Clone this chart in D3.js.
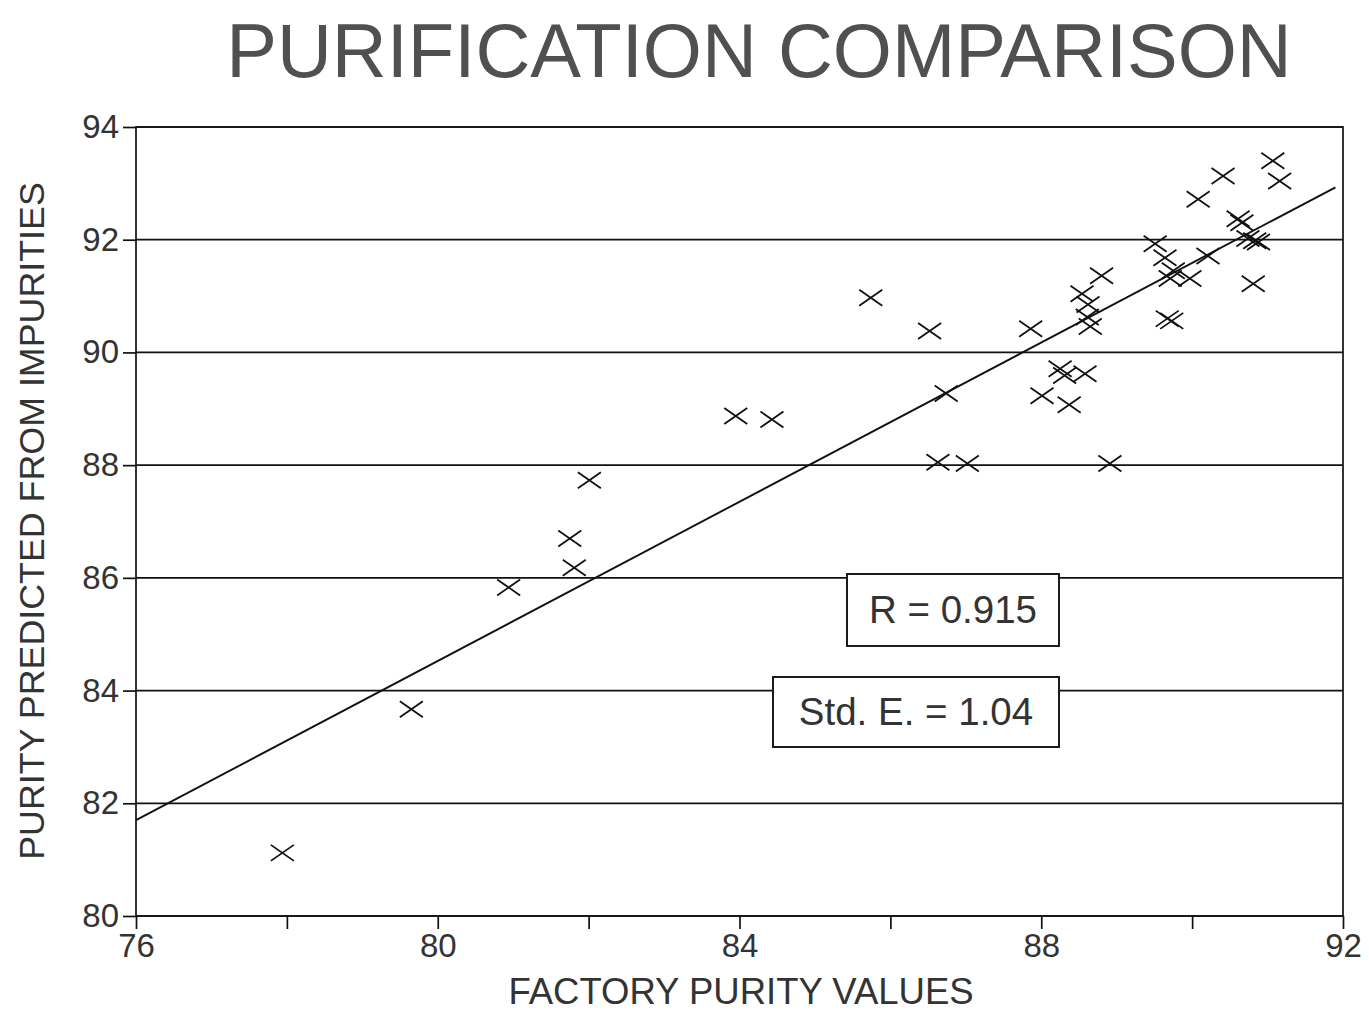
<!DOCTYPE html>
<html>
<head>
<meta charset="utf-8">
<script src="https://cdn.jsdelivr.net/npm/d3@7"></script>
<style>
  html, body { margin: 0; padding: 0; background: #fff; }
  svg { display: block; font-family: "Liberation Sans", Arial, sans-serif; }
</style>
</head>
<body>
<svg id="chart" width="1369" height="1012"></svg>
<script>
// ---- data ----
const title = "PURIFICATION COMPARISON";
const xLabel = "FACTORY PURITY VALUES";
const yLabel = "PURITY PREDICTED FROM IMPURITIES";
const xTicks = [76, 78, 80, 82, 84, 86, 88, 90, 92];
const xTickLabels = [76, 80, 84, 88, 92];
const yTicks = [80, 82, 84, 86, 88, 90, 92, 94];
const factoryPurity = [
  77.94, 79.65, 80.94, 81.75, 81.81, 82.01, 83.95, 84.43, 85.74, 86.52,
  86.74, 86.63, 87.02, 87.86, 88.01, 88.25, 88.31, 88.37, 88.58, 88.91,
  88.54, 88.62, 88.61, 88.65, 88.80, 89.51, 89.64, 89.75, 89.71, 89.97,
  90.21, 90.08, 90.41, 90.61, 90.66, 90.74, 90.83, 90.88, 90.81, 91.07,
  91.16, 89.67, 89.73
];
const predictedPurity = [
  81.12, 83.67, 85.83, 86.70, 86.18, 87.73, 88.87, 88.81, 90.97, 90.38,
  89.27, 88.05, 88.03, 90.42, 89.23, 89.71, 89.59, 89.07, 89.62, 88.03,
  91.04, 90.85, 90.63, 90.46, 91.36, 91.93, 91.68, 91.45, 91.31, 91.31,
  91.71, 92.72, 93.13, 92.37, 92.30, 92.02, 91.98, 91.96, 91.22, 93.40,
  93.04, 90.60, 90.56
];
const fitLineX = [76, 91.9];
const fitLineY = [81.7, 92.93];
const annotations = ["R = 0.915", "Std. E. = 1.04"];

// ---- layout ----
const W = 1369, H = 1012;
const margin = { left: 136, right: 26, top: 127, bottom: 96 };
const svg = d3.select("#chart");

const x = d3.scaleLinear().domain([76, 92]).range([margin.left, W - margin.right]);
const y = d3.scaleLinear().domain([80, 94]).range([H - margin.bottom, margin.top]);

// gridlines
svg.append("g")
  .selectAll("line")
  .data(yTicks)
  .join("line")
  .attr("x1", x(76)).attr("x2", x(92))
  .attr("y1", d => y(d)).attr("y2", d => y(d))
  .attr("stroke", "#111").attr("stroke-width", 1.7);

// plot border
svg.append("rect")
  .attr("x", x(76)).attr("y", y(94))
  .attr("width", x(92) - x(76)).attr("height", y(80) - y(94))
  .attr("fill", "none").attr("stroke", "#111").attr("stroke-width", 1.7);

// x axis
const xAxis = d3.axisBottom(x)
  .tickValues(xTicks)
  .tickSize(13)
  .tickPadding(5)
  .tickFormat(d => xTickLabels.includes(d) ? d : "");
const gx = svg.append("g").attr("transform", `translate(0,${y(80)})`).call(xAxis);
gx.select(".domain").remove();
gx.selectAll("line").attr("stroke", "#111").attr("stroke-width", 1.7);
gx.selectAll("text")
  .attr("font-size", 33).attr("fill", "#333")
  .attr("font-family", "Liberation Sans, Arial, sans-serif");

// y axis
const yAxis = d3.axisLeft(y).tickValues(yTicks).tickSize(13).tickPadding(4);
const gy = svg.append("g").attr("transform", `translate(${x(76)},0)`).call(yAxis);
gy.select(".domain").remove();
gy.selectAll("line").attr("stroke", "#111").attr("stroke-width", 1.7);
gy.selectAll("text")
  .attr("font-size", 33).attr("fill", "#333")
  .attr("font-family", "Liberation Sans, Arial, sans-serif");

// regression line
svg.append("line")
  .attr("x1", x(fitLineX[0])).attr("y1", y(fitLineY[0]))
  .attr("x2", x(fitLineX[1])).attr("y2", y(fitLineY[1]))
  .attr("stroke", "#111").attr("stroke-width", 1.9);

// annotation boxes
const boxes = [
  { text: annotations[0], x0: 847, y0: 574, x1: 1059, y1: 646 },
  { text: annotations[1], x0: 773, y0: 677, x1: 1059, y1: 747 }
];
const bg = svg.append("g").selectAll("g").data(boxes).join("g");
bg.append("rect")
  .attr("x", d => d.x0).attr("y", d => d.y0)
  .attr("width", d => d.x1 - d.x0).attr("height", d => d.y1 - d.y0)
  .attr("fill", "#fff").attr("stroke", "#111").attr("stroke-width", 1.9);
bg.append("text")
  .attr("x", d => (d.x0 + d.x1) / 2).attr("y", d => (d.y0 + d.y1) / 2 + 13)
  .attr("text-anchor", "middle").attr("font-size", 38.5).attr("fill", "#333")
  .text(d => d.text);

// markers (X shapes)
const pts = factoryPurity.map((v, i) => [v, predictedPurity[i]]);
const hw = 11.5, hh = 8;
svg.append("g")
  .selectAll("path")
  .data(pts)
  .join("path")
  .attr("d", d => {
    const cx = x(d[0]), cy = y(d[1]);
    return `M${cx - hw},${cy - hh}L${cx + hw},${cy + hh}M${cx - hw},${cy + hh}L${cx + hw},${cy - hh}`;
  })
  .attr("stroke", "#111").attr("stroke-width", 1.8).attr("fill", "none");

// title
svg.append("text")
  .attr("x", 759).attr("y", 77)
  .attr("text-anchor", "middle")
  .attr("font-size", 76).attr("fill", "#505050")
  .text(title);

// x label
svg.append("text")
  .attr("x", 741).attr("y", 1004)
  .attr("text-anchor", "middle")
  .attr("font-size", 36.5).attr("fill", "#333")
  .text(xLabel);

// y label
svg.append("text")
  .attr("transform", `translate(44,521) rotate(-90)`)
  .attr("text-anchor", "middle")
  .attr("font-size", 35.8).attr("fill", "#333")
  .text(yLabel);
</script>
</body>
</html>
